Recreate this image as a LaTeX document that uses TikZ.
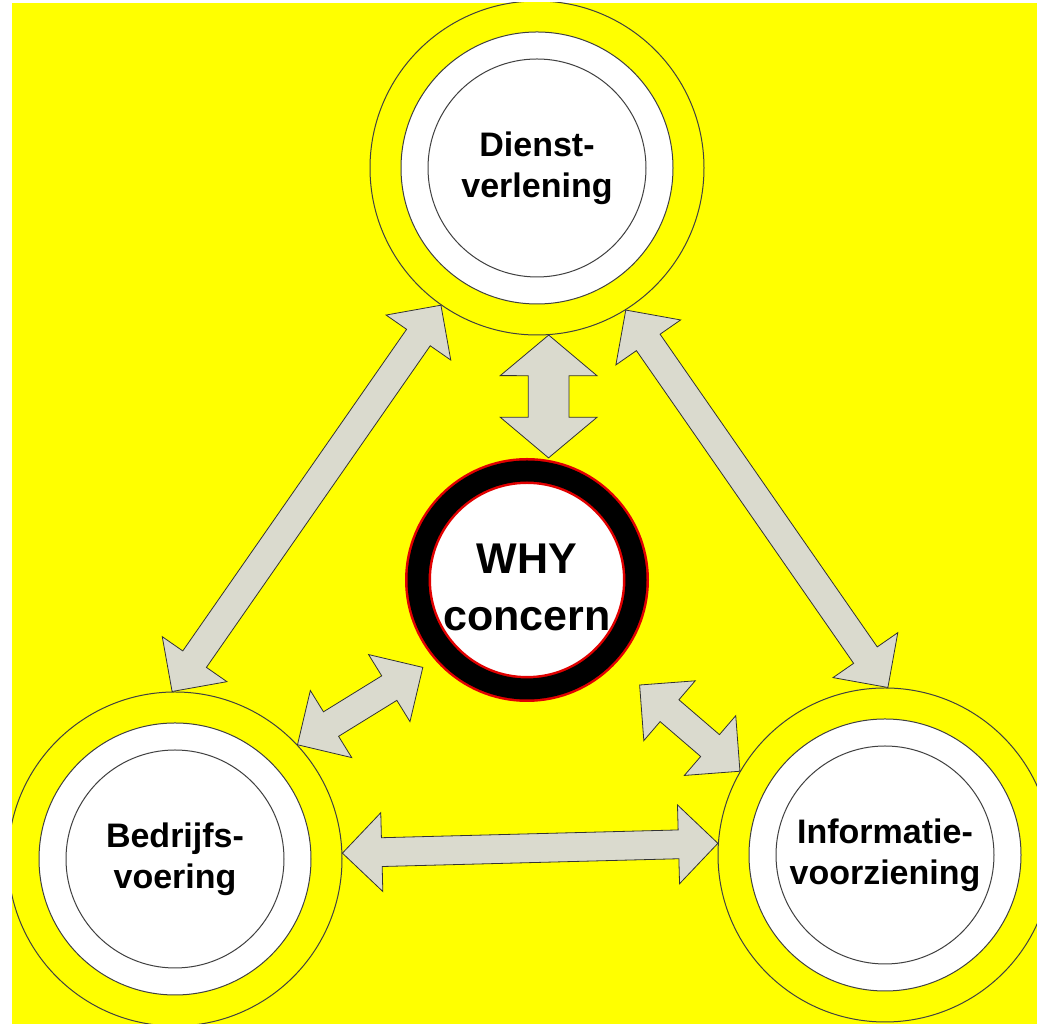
\documentclass[tikz,border=0pt]{standalone}
\usepackage{fontspec}
\setmainfont{Liberation Sans}
\usetikzlibrary{calc,shapes.arrows}
\definecolor{arrowgray}{RGB}{218,218,206}
\definecolor{bgyellow}{RGB}{255,255,0}
\definecolor{ringred}{RGB}{225,0,0}
\newcommand\twoway[3][]{%
  \path let \p1=(#2), \p2=(#3), \n1={atan2(\y2-\y1,\x2-\x1)}, \n2={veclen(\x2-\x1,\y2-\y1)} in
    node[link, #1, minimum height=\n2, rotate=\n1] at (\x1/2+\x2/2, \y1/2+\y2/2) {};}

\begin{document}
\begin{tikzpicture}[x=1pt, y=1pt,
	rim/.style = {draw=black!75, line width=1pt},
	ring/.style = {rim, circle, fill=bgyellow, minimum size=334pt, inner sep=0pt},
	txt/.style = {align=center, font=\fontsize{34}{41}\selectfont\bfseries},
	core/.style = {circle, fill=white, draw=ringred, double=black, double distance=21pt, line width=2.5pt,
		minimum size=218pt, outer sep=0pt, align=center, font=\fontsize{43}{57}\selectfont\bfseries},
	link/.style = {double arrow, draw=black!80, fill=arrowgray, line width=0.8pt, inner xsep=0pt,
		inner ysep=14pt, minimum width=78pt, double arrow head extend=25pt, double arrow tip angle=90},
	fat/.style = {inner ysep=20pt, minimum width=96pt, double arrow head extend=28pt, double arrow tip angle=100}]
\useasboundingbox (0,0) rectangle (1037,1024);
\fill[white] (0,0) rectangle (1037,1024);
\clip (12,0) rectangle (1037,1021);
\fill[bgyellow] (12,0) rectangle (1037,1021);

\node[ring] (dienst) at (537,856) {};
\node[ring] (bedrijf) at (175,165) {};
\node[ring] (info) at (885,169) {};
\foreach \n/\t in {dienst/{Dienst-\\verlening}, bedrijf/{Bedrijfs-\\voering}, info/{Informatie-\\voorziening}}{
	\draw[rim, fill=white] (\n) circle (136pt);
	\draw[rim] (\n) circle (109pt);
	\node[txt] at (\n) {\t};
}
\node[core] (why) at (527,444) {};
\node[core, draw=none, fill=none, yshift=-7pt] at (why) {WHY\\concern};

\twoway{dienst.235}{bedrijf.91}
\twoway{dienst.302}{info.89}
\twoway[fat]{dienst.274}{$(why)+(80:124)$}
\twoway{bedrijf.43}{$(why)+(220:136)$}
\twoway{$(why)+(317:154)$}{info.150}
\twoway{bedrijf.2}{info.176}
\end{tikzpicture}
\end{document}
